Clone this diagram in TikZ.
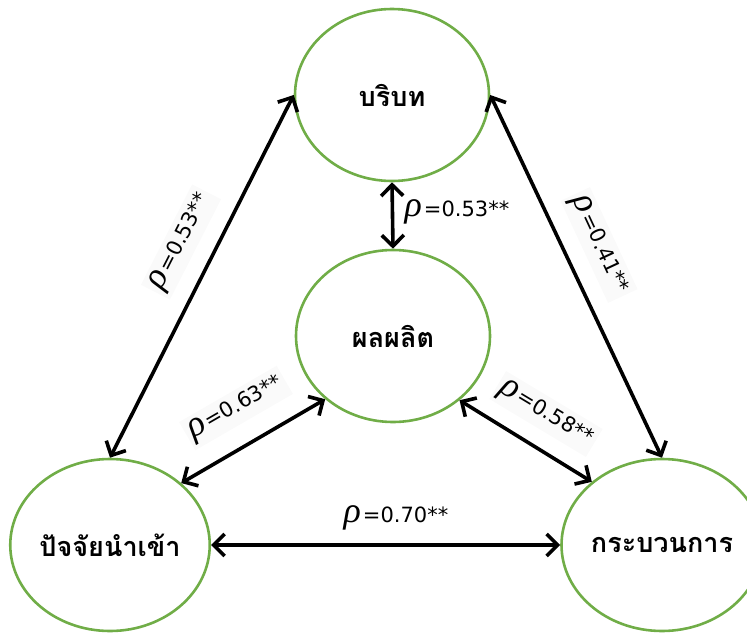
\documentclass[tikz,border=0pt]{standalone}
\usepackage{fontspec}
\newfontfamily\thaifont[Script=Thai]{Loma}
\newfontfamily\labfont{DejaVu Sans}
\newfontfamily\rhofont{Liberation Serif}
\usetikzlibrary{shapes.geometric,arrows.meta}
\definecolor{ogreen}{RGB}{112,173,71}
\newcommand{\rlab}[1]{{\rhofont\itshape\fontsize{36}{36}\selectfont ρ}\kern2pt=#1}
\begin{document}
\begin{tikzpicture}[x=1pt,y=-1pt,
  circ/.style={ellipse,draw=ogreen,line width=2.6pt,minimum width=194pt,minimum height=172pt,inner sep=0pt,
    font=\thaifont\bfseries\fontsize{27}{27}\selectfont},
  conn/.style={line width=3.6pt,{Straight Barb[length=11pt,width=22pt]}-{Straight Barb[length=11pt,width=22pt]}},
  lab/.style={font=\labfont\fontsize{21}{21}\selectfont,fill=black!2,inner sep=4pt}]
\useasboundingbox (0,0) rectangle (747,632);
\node[circ] (top) at (392,95) {บริบท};
\node[circ] (mid) at (393,336) {ผลผลิต};
\node[circ] (left) at (110,545) {ปัจจัยนำเข้า};
\node[circ] (right) at (662,545) {กระบวนการ};
\draw[conn] (top.west) -- (left.north);
\draw[conn] (top.east) -- (right.north);
\draw[conn] (top.south) -- (mid.north);
\draw[conn] (mid.223) -- (left.41);
\draw[conn] (mid.316) -- (right.138);
\draw[conn] (left.east) -- (right.west);
\node[lab,rotate=63] (l1) at (181,242) {\rlab{0.53**}};
\node[lab,rotate=-65] (l2) at (599,245) {\rlab{0.41**}};
\node[lab,fill=none] (l3) at (457,212) {\rlab{0.53**}};
\node[lab,rotate=30] (l4) at (236,408) {\rlab{0.63**}};
\node[lab,rotate=-31] (l5) at (546,414) {\rlab{0.58**}};
\node[lab,fill=none] (l6) at (396,518) {\rlab{0.70**}};
\end{tikzpicture}
\end{document}
